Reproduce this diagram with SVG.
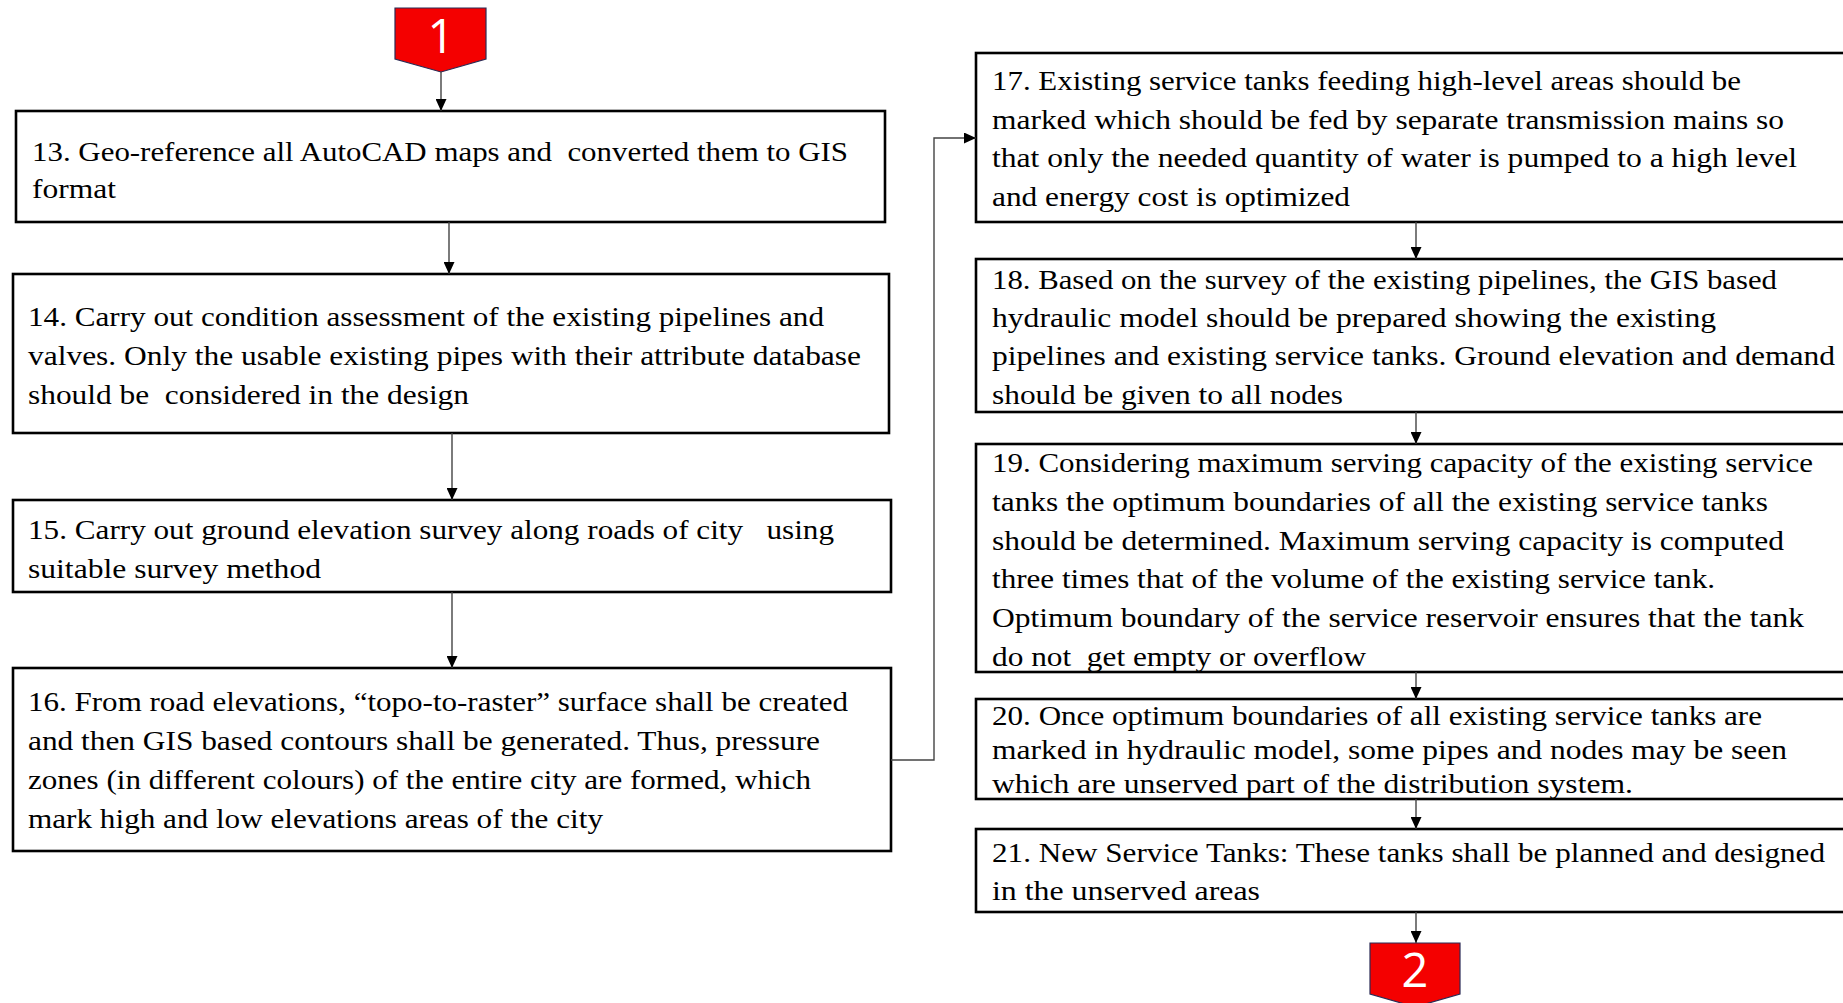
<svg xmlns="http://www.w3.org/2000/svg" width="1843" height="1003" viewBox="0 0 1843 1003">
  <style>
    .box { fill: #ffffff; stroke: #000000; stroke-width: 2.6; }
    .t { font-family: "Liberation Serif", "Times New Roman", serif; font-size: 28px; fill: #000000; white-space: pre; }
    .link { fill: none; stroke: #444444; stroke-width: 1.4; }
    .tag { fill: #f40000; stroke: #2b2b55; stroke-width: 1.2; }
    .tagnum { font-family: "Open Sans", "Liberation Sans", sans-serif; font-size: 47px; fill: #ffffff; text-anchor: middle; }
  </style>
  <defs>
    <marker id="arrow" markerUnits="userSpaceOnUse" markerWidth="12" markerHeight="11" refX="12" refY="5.5" orient="auto">
      <path d="M0,0 L12,5.5 L0,11 Z" fill="#000000"/>
    </marker>
  </defs>
  <rect x="0" y="0" width="1843" height="1003" fill="#ffffff"/>

  <!-- off-page connector 1 -->
  <g id="tag1">
    <polygon class="tag" points="395,8 486,8 486,59 441,72 395,59"/>
    <text class="tagnum" x="441" y="53">1</text>
  </g>

  <!-- left column -->
  <g id="step13">
    <rect class="box" x="16" y="111" width="869" height="111"/>
    <text class="t" x="32" y="161" textLength="816" lengthAdjust="spacingAndGlyphs">13. Geo-reference all AutoCAD maps and  converted them to GIS</text>
    <text class="t" x="32" y="198" textLength="84" lengthAdjust="spacingAndGlyphs">format</text>
  </g>
  <g id="step14">
    <rect class="box" x="13" y="274" width="876" height="159"/>
    <text class="t" x="28" y="326" textLength="796" lengthAdjust="spacingAndGlyphs">14. Carry out condition assessment of the existing pipelines and</text>
    <text class="t" x="28" y="365" textLength="833" lengthAdjust="spacingAndGlyphs">valves. Only the usable existing pipes with their attribute database</text>
    <text class="t" x="28" y="404" textLength="441" lengthAdjust="spacingAndGlyphs">should be  considered in the design</text>
  </g>
  <g id="step15">
    <rect class="box" x="13" y="500" width="878" height="92"/>
    <text class="t" x="28" y="539" textLength="806" lengthAdjust="spacingAndGlyphs">15. Carry out ground elevation survey along roads of city   using</text>
    <text class="t" x="28" y="578" textLength="293" lengthAdjust="spacingAndGlyphs">suitable survey method</text>
  </g>
  <g id="step16">
    <rect class="box" x="13" y="668" width="878" height="183"/>
    <text class="t" x="28" y="711" textLength="820" lengthAdjust="spacingAndGlyphs">16. From road elevations, “topo-to-raster” surface shall be created</text>
    <text class="t" x="28" y="750" textLength="792" lengthAdjust="spacingAndGlyphs">and then GIS based contours shall be generated. Thus, pressure</text>
    <text class="t" x="28" y="789" textLength="783" lengthAdjust="spacingAndGlyphs">zones (in different colours) of the entire city are formed, which</text>
    <text class="t" x="28" y="828" textLength="575" lengthAdjust="spacingAndGlyphs">mark high and low elevations areas of the city</text>
  </g>

  <!-- right column (boxes run past the right edge) -->
  <g id="step17">
    <rect class="box" x="976" y="53" width="880" height="169"/>
    <text class="t" x="992" y="90" textLength="749" lengthAdjust="spacingAndGlyphs">17. Existing service tanks feeding high-level areas should be</text>
    <text class="t" x="992" y="129" textLength="792" lengthAdjust="spacingAndGlyphs">marked which should be fed by separate transmission mains so</text>
    <text class="t" x="992" y="167" textLength="805" lengthAdjust="spacingAndGlyphs">that only the needed quantity of water is pumped to a high level</text>
    <text class="t" x="992" y="206" textLength="358" lengthAdjust="spacingAndGlyphs">and energy cost is optimized</text>
  </g>
  <g id="step18">
    <rect class="box" x="976" y="259" width="880" height="153"/>
    <text class="t" x="992" y="289" textLength="785" lengthAdjust="spacingAndGlyphs">18. Based on the survey of the existing pipelines, the GIS based</text>
    <text class="t" x="992" y="327" textLength="724" lengthAdjust="spacingAndGlyphs">hydraulic model should be prepared showing the existing</text>
    <text class="t" x="992" y="365" textLength="843" lengthAdjust="spacingAndGlyphs">pipelines and existing service tanks. Ground elevation and demand</text>
    <text class="t" x="992" y="404" textLength="351" lengthAdjust="spacingAndGlyphs">should be given to all nodes</text>
  </g>
  <g id="step19">
    <rect class="box" x="976" y="444" width="880" height="228"/>
    <text class="t" x="992" y="472" textLength="821" lengthAdjust="spacingAndGlyphs">19. Considering maximum serving capacity of the existing service</text>
    <text class="t" x="992" y="511" textLength="776" lengthAdjust="spacingAndGlyphs">tanks the optimum boundaries of all the existing service tanks</text>
    <text class="t" x="992" y="550" textLength="792" lengthAdjust="spacingAndGlyphs">should be determined. Maximum serving capacity is computed</text>
    <text class="t" x="992" y="588" textLength="723" lengthAdjust="spacingAndGlyphs">three times that of the volume of the existing service tank.</text>
    <text class="t" x="992" y="627" textLength="812" lengthAdjust="spacingAndGlyphs">Optimum boundary of the service reservoir ensures that the tank</text>
    <text class="t" x="992" y="666" textLength="374" lengthAdjust="spacingAndGlyphs">do not  get empty or overflow</text>
  </g>
  <g id="step20">
    <rect class="box" x="976" y="699" width="880" height="100"/>
    <text class="t" x="992" y="725" textLength="770" lengthAdjust="spacingAndGlyphs">20. Once optimum boundaries of all existing service tanks are</text>
    <text class="t" x="992" y="759" textLength="795" lengthAdjust="spacingAndGlyphs">marked in hydraulic model, some pipes and nodes may be seen</text>
    <text class="t" x="992" y="793" textLength="641" lengthAdjust="spacingAndGlyphs">which are unserved part of the distribution system.</text>
  </g>
  <g id="step21">
    <rect class="box" x="976" y="829" width="880" height="83"/>
    <text class="t" x="992" y="862" textLength="833" lengthAdjust="spacingAndGlyphs">21. New Service Tanks: These tanks shall be planned and designed</text>
    <text class="t" x="992" y="900" textLength="268" lengthAdjust="spacingAndGlyphs">in the unserved areas</text>
  </g>

  <!-- off-page connector 2 (runs off the bottom edge) -->
  <g id="tag2">
    <polygon class="tag" points="1370,943 1460,943 1460,994 1415,1007 1370,994"/>
    <text class="tagnum" x="1415" y="987">2</text>
  </g>

  <!-- connectors -->
  <g id="connectors">
    <line class="link" x1="441" y1="72" x2="441" y2="111" marker-end="url(#arrow)"/>
    <line class="link" x1="449" y1="222" x2="449" y2="274" marker-end="url(#arrow)"/>
    <line class="link" x1="452" y1="433" x2="452" y2="500" marker-end="url(#arrow)"/>
    <line class="link" x1="452" y1="592" x2="452" y2="668" marker-end="url(#arrow)"/>
    <polyline class="link" points="891,760 934,760 934,138 976,138" marker-end="url(#arrow)"/>
    <line class="link" x1="1416" y1="222" x2="1416" y2="259" marker-end="url(#arrow)"/>
    <line class="link" x1="1416" y1="412" x2="1416" y2="444" marker-end="url(#arrow)"/>
    <line class="link" x1="1416" y1="672" x2="1416" y2="699" marker-end="url(#arrow)"/>
    <line class="link" x1="1416" y1="799" x2="1416" y2="829" marker-end="url(#arrow)"/>
    <line class="link" x1="1416" y1="912" x2="1416" y2="943" marker-end="url(#arrow)"/>
  </g>
</svg>
